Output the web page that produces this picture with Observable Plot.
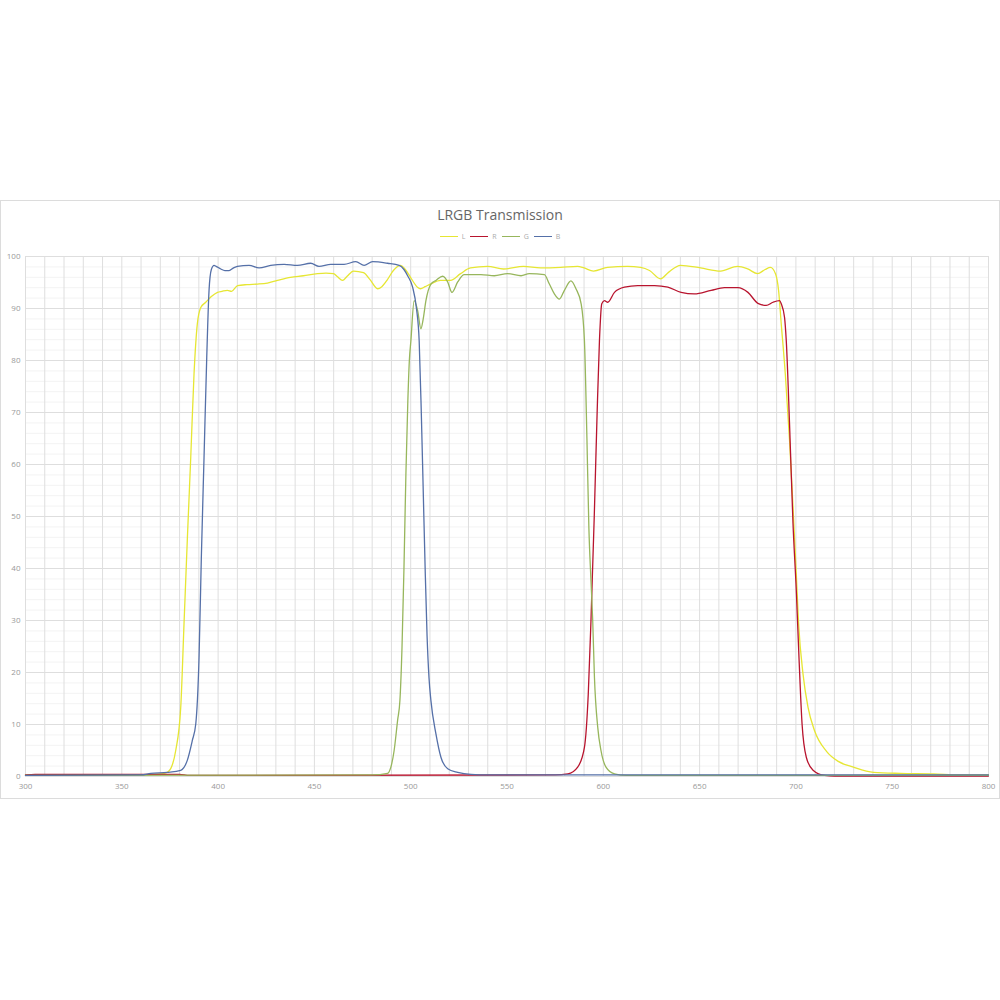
<!DOCTYPE html>
<html>
<head>
<meta charset="utf-8">
<script src="https://cdn.jsdelivr.net/npm/d3@7"></script>
<script src="https://cdn.jsdelivr.net/npm/@observablehq/plot@0.6"></script>
<style>
  html, body { margin: 0; padding: 0; background: #fff; width: 1000px; height: 1000px; overflow: hidden; }
  #wrap { position: absolute; left: 0; top: 200px; width: 998px; height: 597px; border: 1px solid #dcdcdc; font-family: "Open Sans", "Noto Sans", sans-serif; }
  #title { position: absolute; top: 5px; left: 0; width: 100%; text-align: center; font-size: 14px; line-height: 18px; color: #666; }
  #legend { position: absolute; top: 30px; left: 0; width: 100%; height: 10px; display: flex; justify-content: center; align-items: center; gap: 5px; font-size: 7px; color: #aaa; }
  .item { display: flex; align-items: center; gap: 4px; }
  .sw { width: 18px; height: 0; border-top: 1.3px solid; }
  #chart { position: absolute; top: 45px; left: 0; }
</style>
</head>
<body>
<div id="wrap">
  <div id="title">LRGB Transmission</div>
  <div id="legend"></div>
  <div id="chart"></div>
</div>
<script>
const seriesNames = ["L", "R", "G", "B"];
const seriesColors = ["#e6e633", "#b8142e", "#97b65c", "#5570a8"];

const xTicks = [300, 350, 400, 450, 500, 550, 600, 650, 700, 750, 800];
const yTicks = [0, 10, 20, 30, 40, 50, 60, 70, 80, 90, 100];

// [wavelength nm, transmission %]
const L = [[300,0.3],[360,0.3],[370,0.5],[373.6,0.8],[376,2],[378,5],[380.6,13.3],[382.3,29.3],[384,45.4],[385.8,61.4],[387.5,77.4],[389.2,87],[391,90.2],[393.6,91.2],[396.5,92.3],[399.7,93.1],[402,93.3],[404.8,93.5],[407,93.3],[410.1,94.4],[415,94.6],[420.5,94.7],[425.6,94.9],[430.8,95.4],[437.6,96],[444.3,96.3],[451.6,96.7],[456,96.8],[459.9,96.7],[462,96.1],[464.6,95.4],[467,96.2],[470.3,97.2],[475.5,96.9],[479,95.5],[482.8,93.8],[485,94.2],[488,95.6],[491,97.3],[494.7,98.3],[497,97.6],[499.9,96],[503.5,94.1],[505.1,93.8],[507.5,94.2],[510.3,94.7],[515.5,95.4],[520.7,95.4],[525.9,96.7],[531,97.8],[539.9,98.1],[548.2,97.6],[558.6,98.1],[567.4,97.8],[577.8,97.9],[586.6,98.1],[590,97.8],[594.9,97.2],[602.2,97.9],[612.6,98.1],[619.3,97.9],[624,97.3],[629.7,95.7],[634,97],[640.1,98.3],[650.5,97.8],[660.9,97.2],[669.7,98.1],[675,97.6],[680.1,96.7],[684,97.5],[686.8,97.9],[689.4,96.7],[691,93.5],[692.4,87],[694.5,77.4],[696.7,64.6],[698.5,51.8],[700.2,39],[701.4,29.4],[703.7,19.7],[706.3,13.3],[709.7,8.8],[716,4.8],[722,2.9],[729.9,1.8],[740.3,0.8],[754.3,0.6],[771.4,0.5],[785,0.3],[800,0.3]];

const R = [[300,0.3],[305,0.4],[380,0.4],[385,0.2],[575,0.3],[581.6,0.5],[586.7,1.8],[590.2,5.6],[592.2,15.9],[593.6,30],[595.3,50],[596.8,70],[598,83.8],[599.2,90.9],[600.6,91.5],[602.3,91.2],[605.8,93.1],[611,94.1],[617.9,94.4],[626.6,94.4],[633.5,94.1],[640.4,93.1],[647.3,92.8],[656,93.5],[662.9,94],[669.9,94],[675.1,93.1],[680.3,91],[684.6,90.6],[688.1,91.2],[691.5,91.5],[692.4,90.9],[694.1,88.3],[695,83.8],[696.7,67.8],[698.5,48.6],[700.2,35.8],[701.6,22.9],[703.2,10.1],[705.4,3.7],[708.9,1.2],[714.9,0.2],[720,0.1],[800,0.1]];

const G = [[300,0.2],[480,0.3],[488,0.6],[489.7,1.8],[491.4,5],[493.2,10.8],[494.4,14.6],[495.5,25],[496.5,40],[497.5,58],[498.5,72],[499.3,80],[500.1,83.8],[501.8,91.5],[503.6,89.6],[505.3,86.1],[506.5,88],[507.9,91.5],[510.5,94.7],[513.1,95.4],[516.6,96.2],[519.2,95.1],[521.4,93.1],[524.4,95.1],[527.8,96.5],[536.5,96.5],[543.4,96.3],[550.3,96.7],[557.3,96.3],[561.6,96.7],[569.4,96.5],[572,94.7],[574.6,92.8],[577.2,91.8],[579.8,93.5],[583.2,95.3],[585.8,93.8],[588.5,90.9],[590.2,83.8],[591.5,65],[592.5,48],[593.6,37.7],[594.5,30],[595.4,19.1],[597.1,9.5],[598.8,5],[601.4,1.8],[605.8,0.5],[612,0.2],[800,0.2]];

const B = [[300,0.2],[360,0.3],[365,0.6],[373.6,0.8],[380.6,1.2],[384,3.1],[386.6,6.9],[388.4,10.1],[390.1,22.9],[391.3,42.2],[392.7,61.4],[394.1,80.6],[395.3,93.5],[396.5,97.5],[397.9,98.3],[399,98.1],[401.4,97.6],[403.5,97.3],[405.7,97.3],[408,97.8],[410,98.1],[416.1,98.3],[421.3,97.8],[427.3,98.3],[434.3,98.5],[441.2,98.3],[448.1,98.7],[452.4,98.1],[458.5,98.5],[465.4,98.5],[471.5,99],[475.8,98.3],[480.2,99],[488,98.7],[494,98.3],[496.5,97.5],[498.4,96.3],[501,94.1],[503,90],[504.4,83.8],[505.5,70],[506.5,55],[507.5,40],[508.5,27],[509.5,19],[510.5,14.6],[513.1,8.2],[515.7,3.7],[519.2,1.5],[524.4,0.8],[531.3,0.4],[540,0.3],[800,0.3]];

const seriesData = [L, R, G, B];

const gridX = d3.range(300, 801, 10);
const minorY = d3.range(0, 101, 2).filter(v => v % 10 !== 0);

const rows = [];
seriesData.forEach((arr, i) => arr.forEach(([nm, t]) => rows.push({series: seriesNames[i], nm, t})));

// legend
const legend = document.getElementById("legend");
seriesNames.forEach((n, i) => {
  const it = document.createElement("div");
  it.className = "item";
  it.innerHTML = `<span class="sw" style="border-color:${seriesColors[i]}"></span><span>${n}</span>`;
  legend.appendChild(it);
});

const chart = Plot.plot({
  width: 998,
  height: 550,
  marginLeft: 24,
  marginRight: 11,
  marginTop: 10,
  marginBottom: 20,
  style: {fontSize: "8px", color: "#999", fontFamily: "'Open Sans', 'Noto Sans', sans-serif", background: "transparent"},
  x: {domain: [300, 800], ticks: xTicks, tickSize: 0, tickPadding: 7, label: null, tickFormat: d => String(d)},
  y: {domain: [0, 100], ticks: yTicks, tickSize: 0, tickPadding: 5, label: null, tickFormat: d => String(d)},
  color: {domain: seriesNames, range: seriesColors},
  marks: [
    Plot.ruleY(minorY, {stroke: "#f3f3f3", strokeWidth: 1}),
    Plot.ruleY(yTicks, {stroke: "#dedede", strokeWidth: 1}),
    Plot.ruleX(gridX, {stroke: "#dedede", strokeWidth: 1}),
    Plot.line(rows, {x: "nm", y: "t", z: "series", stroke: "series", strokeWidth: 1.3, curve: "monotone-x"})
  ]
});
document.getElementById("chart").appendChild(chart);
</script>
</body>
</html>
